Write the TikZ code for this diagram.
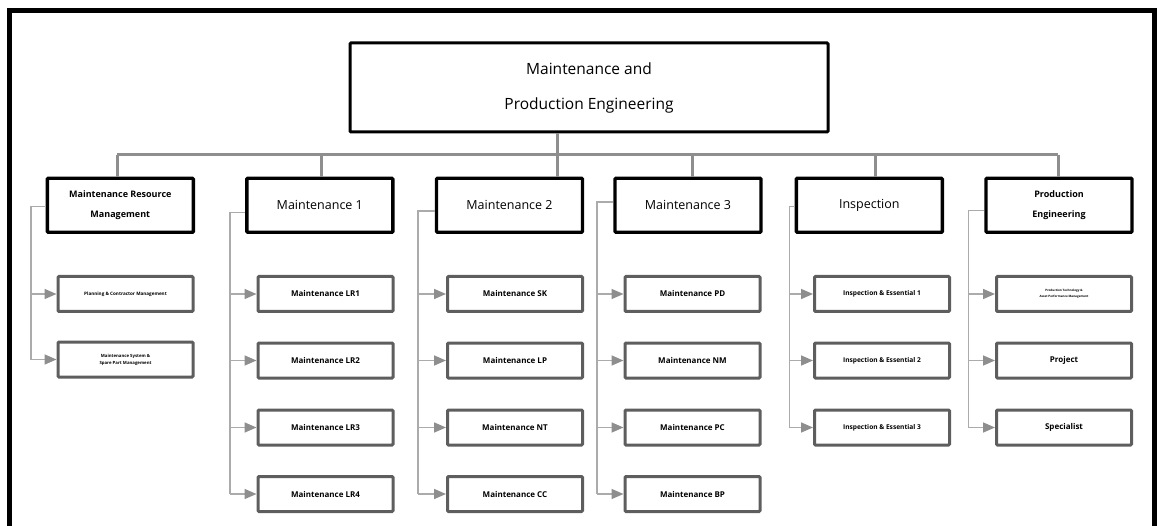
\documentclass[tikz,border=0pt]{standalone}
\usepackage{fontspec}
\setmainfont{Open Sans}
\usetikzlibrary{arrows.meta}
\definecolor{bargray}{HTML}{8E8E8E}
\definecolor{sidegray}{HTML}{ABABAB}
\definecolor{boxgray}{HTML}{5E5E5E}
\tikzset{
  headbox/.style={draw=black, line width=3pt, rounded corners=1pt, fill=white,
    minimum width=478pt, minimum height=89pt, align=center, inner sep=0pt,
    font=\fontsize{15.5}{35}\selectfont},
  unitbox/.style={draw=black, line width=3.4pt, rounded corners=1pt, fill=white,
    minimum width=146pt, minimum height=54pt, align=center, inner sep=0pt,
    font=\fontsize{12.5}{20}\selectfont},
  smallunit/.style={unitbox, font=\fontsize{9}{20}\selectfont\bfseries},
  subbox/.style={draw=boxgray, line width=3pt, rounded corners=1pt, fill=white,
    minimum width=135pt, minimum height=35pt, align=center, inner sep=0pt,
    font=\fontsize{8}{10}\selectfont\bfseries},
  bar/.style={draw=bargray, line width=3pt},
  side/.style={draw=sidegray, line width=1.6pt},
  feed/.style={draw=sidegray, line width=1.6pt,
    -{Triangle[length=12pt,width=10pt,color=bargray,fill=bargray]}}
}
\begin{document}
\begin{tikzpicture}[x=1pt,y=-1pt]
\useasboundingbox (0,0) rectangle (1161,526);

% outer frame, open at the bottom edge
\begin{scope}
  \clip (0,0) rectangle (1161,526);
  \draw[line width=5pt] (9.5,560) -- (9.5,11) -- (1154.5,11) -- (1154.5,560);
\end{scope}

% head of the organisation
\node[headbox] (top) at (589,87.5) {Maintenance and\\Production Engineering};

% second level units
\node[smallunit] (mrm) at (120.3,205.3) {Maintenance Resource\\Management};
\node[unitbox] (m1) at (319.8,205.3) {Maintenance 1};
\node[unitbox] (m2) at (509.5,205.3) {Maintenance 2};
\node[unitbox] (m3) at (688,205.3) {Maintenance 3};
\node[unitbox] (ins) at (869.3,205.3) {Inspection};
\node[smallunit] (pe) at (1059,205.3) {Production\\Engineering};

% third level sections
\node[subbox, font=\fontsize{4.6}{7}\selectfont\bfseries] (r1) at (125.5,294) {Planning \& Contractor Management};
\node[subbox, font=\fontsize{4.3}{7}\selectfont\bfseries] (r2) at (125.5,359.5) {Maintenance System \&\\Spare Part Management};

\node[subbox] (a1) at (325.5,294) {Maintenance LR1};
\node[subbox] (a2) at (325.5,360.5) {Maintenance LR2};
\node[subbox] (a3) at (325.5,427.5) {Maintenance LR3};
\node[subbox] (a4) at (325.5,494) {Maintenance LR4};

\node[subbox] (b1) at (515,294) {Maintenance SK};
\node[subbox] (b2) at (515,360.5) {Maintenance LP};
\node[subbox] (b3) at (515,427.5) {Maintenance NT};
\node[subbox] (b4) at (515,494) {Maintenance CC};

\node[subbox] (c1) at (692.5,294) {Maintenance PD};
\node[subbox] (c2) at (692.5,360.5) {Maintenance NM};
\node[subbox] (c3) at (692.5,427.5) {Maintenance PC};
\node[subbox] (c4) at (692.5,494) {Maintenance BP};

\node[subbox, font=\fontsize{6.6}{10}\selectfont\bfseries] (e1) at (882,294) {Inspection \& Essential 1};
\node[subbox, font=\fontsize{6.6}{10}\selectfont\bfseries] (e2) at (882,360.5) {Inspection \& Essential 2};
\node[subbox, font=\fontsize{6.6}{10}\selectfont\bfseries] (e3) at (882,427.5) {Inspection \& Essential 3};

\node[subbox, font=\fontsize{3}{6}\selectfont\bfseries] (p1) at (1064,294) {Production Technology \&\\Asset Performance Management};
\node[subbox] (p2) at (1064,360.5) {Project};
\node[subbox] (p3) at (1064,427.5) {Specialist};

% distribution bar under the head box
\coordinate (j0) at (557,155);
\coordinate (bl) at (117,155);
\coordinate (br) at (1058,155);
\coordinate (d1) at (321.7,155);
\coordinate (d3) at (692,155);
\coordinate (d4) at (875,155);
\draw[bar] (top.south -| j0) -- (j0);
\draw[bar] (bl) -- (br);
\draw[bar] (bl) -- (bl |- mrm.north);
\draw[bar] (d1) -- (d1 |- m1.north);
\draw[bar] (j0) -- (j0 |- m2.north);
\draw[bar] (d3) -- (d3 |- m3.north);
\draw[bar] (d4) -- (d4 |- ins.north);
\draw[bar] (br) -- (br |- pe.north);

% trunks feeding each unit's sections
\coordinate (t0) at (31,206.7);
\coordinate (t1) at (230,212.7);
\coordinate (t2) at (418,211);
\coordinate (t3) at (596.7,202.3);
\coordinate (t4) at (789.3,206.7);
\coordinate (t5) at (968.3,210.7);

\draw[side] (mrm.west |- t0) -- (t0) -- (t0 |- r2.west);
\draw[feed] (t0 |- r1.west) -- (r1.west);
\draw[feed] (t0 |- r2.west) -- (r2.west);

\draw[side] (m1.west |- t1) -- (t1) -- (t1 |- a4.west);
\foreach \n in {a1,a2,a3,a4} \draw[feed] (t1 |- \n.west) -- (\n.west);

\draw[side] (m2.west |- t2) -- (t2) -- (t2 |- b4.west);
\foreach \n in {b1,b2,b3,b4} \draw[feed] (t2 |- \n.west) -- (\n.west);

\draw[side] (m3.west |- t3) -- (t3) -- (t3 |- c4.west);
\foreach \n in {c1,c2,c3,c4} \draw[feed] (t3 |- \n.west) -- (\n.west);

\draw[side] (ins.west |- t4) -- (t4) -- (t4 |- e3.west);
\foreach \n in {e1,e2,e3} \draw[feed] (t4 |- \n.west) -- (\n.west);

\draw[side] (pe.west |- t5) -- (t5) -- (t5 |- p3.west);
\foreach \n in {p1,p2,p3} \draw[feed] (t5 |- \n.west) -- (\n.west);
\end{tikzpicture}
\end{document}
